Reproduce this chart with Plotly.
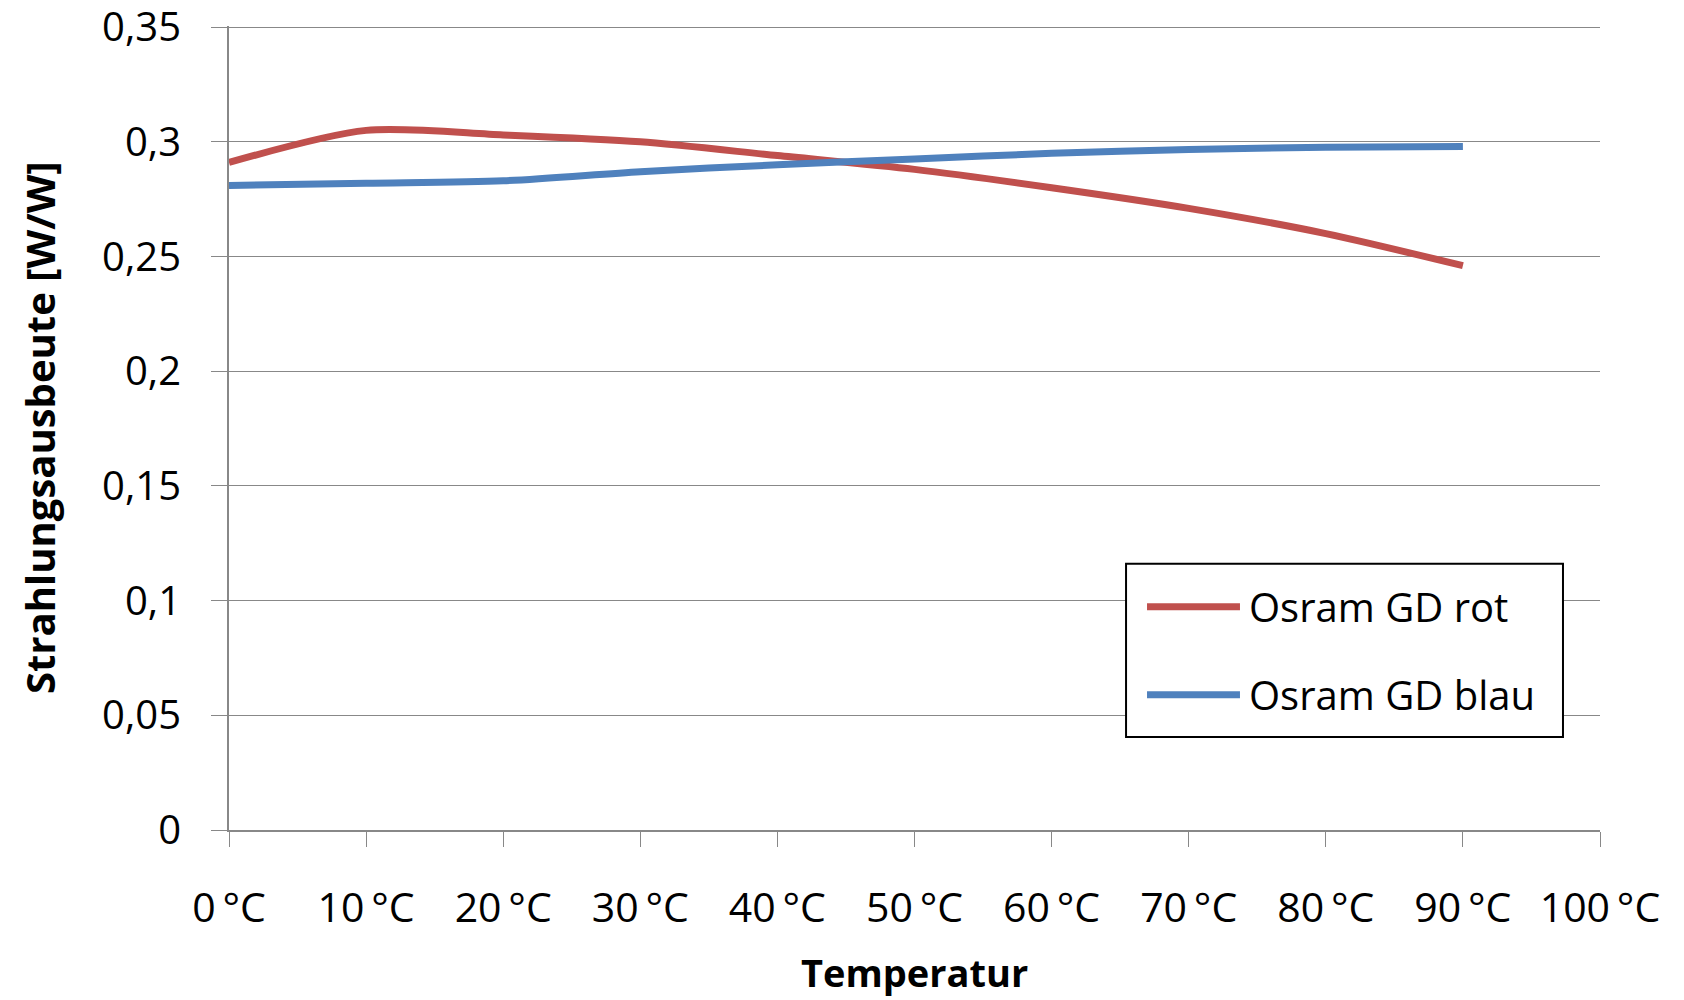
import plotly.graph_objects as go

# Temperature steps and measured radiant efficiency (W/W)
temperatur = [0, 10, 20, 30, 40, 50, 60, 70, 80, 90]
rot = [0.291, 0.305, 0.303, 0.300, 0.294, 0.288, 0.280, 0.271, 0.260, 0.246]
blau = [0.281, 0.282, 0.283, 0.287, 0.290, 0.2925, 0.295, 0.2967, 0.2976, 0.298]
serien = ["Osram GD rot", "Osram GD blau"]
farben = ["#C0504D", "#4F81BD"]

x_ticks = list(range(0, 101, 10))
x_labels = [f"{t}\u2009°C" for t in x_ticks]
y_ticks = [0, 0.05, 0.1, 0.15, 0.2, 0.25, 0.3, 0.35]
y_labels = ["0", "0,05", "0,1", "0,15", "0,2", "0,25", "0,3", "0,35"]

FONT = "Open Sans"
GRID = "#888888"

fig = go.Figure()
for name, werte, farbe in zip(serien, [rot, blau], farben):
    fig.add_trace(go.Scatter(
        x=temperatur, y=werte, name=name, mode="lines",
        line=dict(color=farbe, width=7, shape="spline", smoothing=0.8),
        showlegend=False,
    ))

fig.update_layout(
    width=1684, height=1000,
    margin=dict(l=229, r=84, t=26, b=170),
    paper_bgcolor="white", plot_bgcolor="white",
    font=dict(family=FONT, color="#000000"),
)
fig.update_xaxes(
    range=[0, 100], tickvals=x_ticks, ticktext=x_labels,
    showgrid=False, showline=True, linecolor=GRID, linewidth=2,
    ticks="outside", ticklen=15, tickcolor=GRID, tickwidth=1,
    tickfont=dict(size=41, family=FONT), ticklabelstandoff=26,
    zeroline=False, automargin=False,
)
# top of the range sits a hair above 0.35 so its gridline is kept
fig.update_yaxes(
    range=[0, 0.3505], tickvals=y_ticks, ticktext=y_labels,
    showgrid=True, gridcolor=GRID, gridwidth=1,
    showline=True, linecolor=GRID, linewidth=2,
    ticks="outside", ticklen=16, tickcolor=GRID, tickwidth=1,
    tickfont=dict(size=40, family=FONT), ticklabelstandoff=22,
    ticklabeloverflow="allow", zeroline=False, automargin=False,
)

# Axis titles
fig.add_annotation(
    text="<b>Strahlungsausbeute [W/W]</b>", xref="paper", yref="paper",
    x=0, y=0.5, xanchor="center", yanchor="middle",
    xshift=-190, textangle=-90, showarrow=False,
    font=dict(size=40, family=FONT),
)
fig.add_annotation(
    text="<b>Temperatur</b>", xref="paper", yref="paper",
    x=0.5, y=0, xanchor="center", yanchor="middle",
    yshift=-142, showarrow=False,
    font=dict(size=38, family=FONT),
)

# Legend box with line samples
fig.add_shape(type="rect", xref="paper", yref="paper",
              x0=0.6543, x1=0.9730, y0=0.1158, y1=0.3313,
              line=dict(color="#000000", width=2), fillcolor="white", layer="above")
for name, farbe, ly in zip(serien, farben, [0.2777, 0.1681]):
    fig.add_shape(type="line", xref="paper", yref="paper",
                  x0=0.6696, x1=0.7374, y0=ly, y1=ly,
                  line=dict(color=farbe, width=7), layer="above")
    fig.add_annotation(text=name, xref="paper", yref="paper",
                       x=0.7425, y=ly, xanchor="left", yanchor="middle",
                       showarrow=False, font=dict(size=40, family=FONT))

fig.write_html("out.html")
